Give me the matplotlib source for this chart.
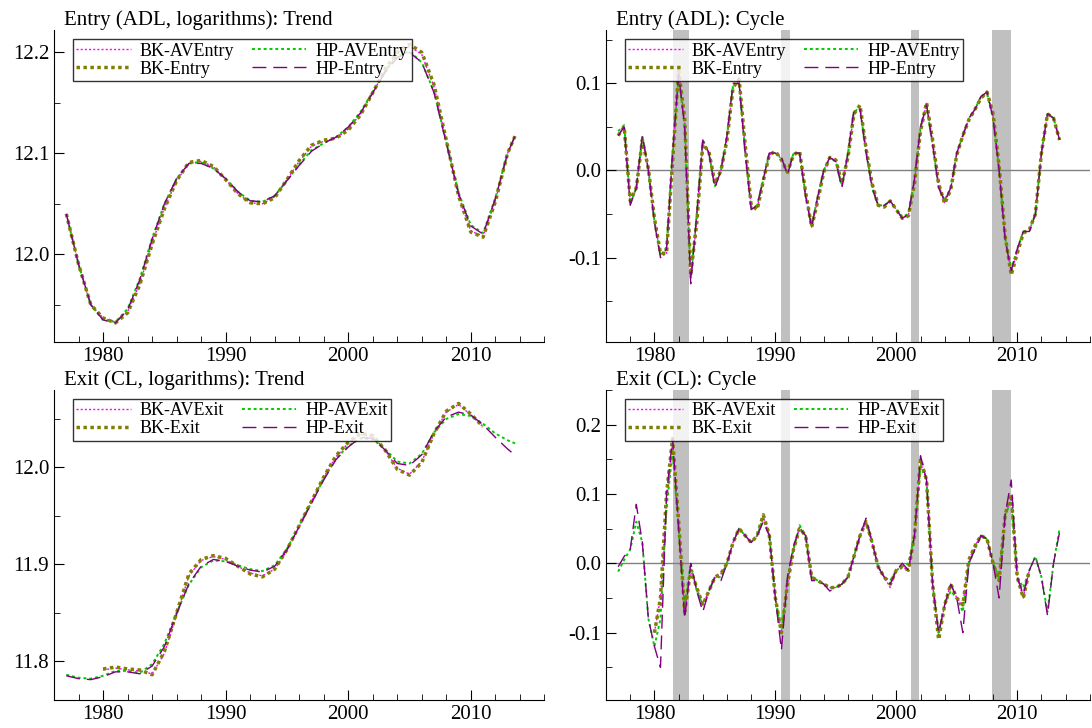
import numpy as np
import matplotlib
matplotlib.use("Agg")
import matplotlib.pyplot as plt
from matplotlib.ticker import MultipleLocator

plt.rcParams['font.family'] = ['Liberation Serif', 'DejaVu Serif']
plt.rcParams['axes.unicode_minus'] = False

# ---------------- data ----------------
yrs_trend = list(range(1977, 2014)) + [2013.6]
entry_hp_trend = [12.04, 11.99, 11.95, 11.935, 11.932, 11.945, 11.975, 12.015, 12.05, 12.075, 12.09,
                  12.09, 12.085, 12.075, 12.062, 12.053, 12.052, 12.058, 12.073, 12.088, 12.102, 12.11,
                  12.116, 12.126, 12.14, 12.16, 12.18, 12.195, 12.2, 12.19, 12.16, 12.11, 12.06,
                  12.028, 12.02, 12.055, 12.1, 12.117]
entry_hpav_trend = [12.04, 11.99, 11.95, 11.935, 11.933, 11.946, 11.976, 12.016, 12.05, 12.075, 12.09,
                    12.091, 12.085, 12.075, 12.062, 12.053, 12.052, 12.058, 12.073, 12.089, 12.103, 12.11,
                    12.116, 12.126, 12.141, 12.161, 12.181, 12.196, 12.201, 12.19, 12.161, 12.111, 12.061,
                    12.029, 12.021, 12.056, 12.1, 12.117]
entry_bk_trend = [12.04, 11.99, 11.95, 11.937, 11.932, 11.942, 11.97, 12.01, 12.045, 12.073, 12.091,
                  12.093, 12.087, 12.074, 12.06, 12.051, 12.05, 12.056, 12.074, 12.093, 12.108, 12.113,
                  12.115, 12.123, 12.138, 12.16, 12.183, 12.2, 12.208, 12.2, 12.168, 12.113, 12.058,
                  12.022, 12.017, 12.052, 12.1, 12.117]
entry_bkav_trend = [12.04, 11.99, 11.95, 11.937, 11.933, 11.943, 11.971, 12.011, 12.046, 12.073, 12.09,
                    12.092, 12.087, 12.074, 12.06, 12.051, 12.05, 12.057, 12.074, 12.092, 12.107, 12.112,
                    12.115, 12.124, 12.139, 12.16, 12.182, 12.199, 12.206, 12.198, 12.166, 12.112, 12.058,
                    12.023, 12.018, 12.053, 12.1, 12.117]

yrs_trend_exit = list(range(1977, 2014)) + [2013.75]
exit_hp_trend = [11.785, 11.782, 11.781, 11.784, 11.789, 11.789, 11.787, 11.795, 11.815, 11.849, 11.88,
                 11.898, 11.905, 11.903, 11.898, 11.894, 11.892, 11.898, 11.915, 11.939, 11.963, 11.987,
                 12.008, 12.021, 12.031, 12.03, 12.018, 12.004, 12.002, 12.013, 12.037, 12.052, 12.057,
                 12.054, 12.044, 12.031, 12.019, 12.011]
exit_hpav_trend = [11.786, 11.783, 11.782, 11.785, 11.79, 11.79, 11.788, 11.797, 11.818, 11.85, 11.879,
                   11.897, 11.904, 11.903, 11.899, 11.895, 11.893, 11.899, 11.916, 11.94, 11.964, 11.988,
                   12.009, 12.022, 12.03, 12.029, 12.019, 12.006, 12.004, 12.014, 12.036, 12.05, 12.055,
                   12.053, 12.045, 12.035, 12.028, 12.024]
yrs_bk = list(range(1980, 2012))
exit_bk_trend = [11.792, 11.794, 11.792, 11.791, 11.786, 11.81, 11.85, 11.89, 11.905, 11.909, 11.906,
                 11.898, 11.89, 11.887, 11.895, 11.915, 11.94, 11.965, 11.99, 12.012, 12.026, 12.035,
                 12.033, 12.018, 11.998, 11.992, 12.005, 12.035, 12.058, 12.066, 12.055, 12.042]
exit_bkav_trend = [11.791, 11.793, 11.791, 11.79, 11.787, 11.808, 11.848, 11.888, 11.904, 11.908, 11.905,
                   11.898, 11.891, 11.888, 11.895, 11.914, 11.939, 11.965, 11.99, 12.011, 12.025, 12.034,
                   12.032, 12.018, 11.999, 11.993, 12.006, 12.035, 12.057, 12.065, 12.054, 12.042]

yrs_cyc = [1977 + 0.5 * i for i in range(74)]
entry_hp_cyc = [0.04, 0.05, -0.04, -0.02, 0.04, 0.0, -0.06, -0.1, -0.09, 0.02, 0.11, 0.05, -0.13, -0.05,
                0.035, 0.02, -0.02, 0.0, 0.04, 0.1, 0.1, 0.02, -0.045, -0.04, -0.01, 0.02, 0.02, 0.015,
                -0.005, 0.02, 0.02, -0.03, -0.065, -0.03, 0.0, 0.015, 0.01, -0.02, 0.02, 0.07, 0.07, 0.02,
                -0.02, -0.04, -0.04, -0.035, -0.045, -0.055, -0.05, -0.01, 0.05, 0.075, 0.03, -0.02,
                -0.035, -0.02, 0.02, 0.04, 0.06, 0.07, 0.085, 0.09, 0.06, 0.0, -0.08, -0.115, -0.09,
                -0.07, -0.07, -0.05, 0.02, 0.065, 0.06, 0.035]
entry_hpav_cyc = [0.045, 0.052, -0.038, -0.02, 0.04, 0.0, -0.058, -0.098, -0.088, 0.02, 0.108, 0.05, -0.125,
                  -0.05, 0.035, 0.02, -0.018, 0.0, 0.04, 0.098, 0.1, 0.022, -0.043, -0.04, -0.01, 0.02, 0.02,
                  0.015, -0.004, 0.02, 0.02, -0.028, -0.063, -0.03, 0.0, 0.015, 0.01, -0.018, 0.02, 0.068,
                  0.07, 0.022, -0.02, -0.04, -0.04, -0.035, -0.045, -0.053, -0.05, -0.01, 0.05, 0.073, 0.03,
                  -0.02, -0.034, -0.02, 0.02, 0.04, 0.06, 0.07, 0.085, 0.088, 0.06, 0.0, -0.078, -0.113,
                  -0.09, -0.07, -0.068, -0.05, 0.02, 0.065, 0.06, 0.035]
entry_bk_cyc = [0.04, 0.05, -0.035, -0.02, 0.035, 0.002, -0.055, -0.095, -0.095, 0.01, 0.115, 0.06, -0.12,
                -0.06, 0.03, 0.022, -0.015, 0.0, 0.035, 0.095, 0.105, 0.03, -0.04, -0.045, -0.012, 0.018,
                0.022, 0.012, -0.002, 0.018, 0.022, -0.025, -0.065, -0.035, -0.002, 0.015, 0.012, -0.015,
                0.015, 0.065, 0.075, 0.025, -0.015, -0.04, -0.042, -0.035, -0.045, -0.055, -0.052, -0.015,
                0.045, 0.078, 0.035, -0.015, -0.038, -0.022, 0.018, 0.04, 0.058, 0.07, 0.083, 0.09, 0.065,
                0.005, -0.075, -0.12, -0.095, -0.072, -0.068, -0.05, 0.02, 0.065, 0.06, 0.035]
entry_bkav_cyc = [0.04, 0.05, -0.036, -0.02, 0.036, 0.002, -0.056, -0.098, -0.096, 0.012, 0.113, 0.058,
                  -0.122, -0.058, 0.031, 0.021, -0.016, 0.0, 0.036, 0.096, 0.104, 0.028, -0.041, -0.044,
                  -0.011, 0.018, 0.021, 0.013, -0.003, 0.019, 0.021, -0.026, -0.065, -0.034, -0.001, 0.015,
                  0.011, -0.016, 0.016, 0.066, 0.074, 0.024, -0.016, -0.04, -0.041, -0.035, -0.045, -0.055,
                  -0.051, -0.014, 0.046, 0.077, 0.034, -0.016, -0.037, -0.021, 0.019, 0.04, 0.059, 0.07,
                  0.084, 0.09, 0.064, 0.004, -0.076, -0.118, -0.093, -0.071, -0.069, -0.05, 0.02, 0.065,
                  0.06, 0.035]

exit_hp_cyc = [-0.005, 0.01, 0.02, 0.085, 0.03, -0.08, -0.12, -0.15, 0.1, 0.18, 0.05, -0.08, 0.0, -0.04,
               -0.07, -0.04, -0.02, -0.025, 0.0, 0.03, 0.05, 0.04, 0.03, 0.04, 0.06, 0.04, -0.05, -0.125,
               -0.02, 0.025, 0.05, 0.04, -0.025, -0.025, -0.03, -0.04, -0.035, -0.03, -0.02, 0.01, 0.04,
               0.065, 0.03, -0.005, -0.02, -0.03, -0.01, 0.0, -0.01, 0.04, 0.155, 0.12, -0.03, -0.1, -0.06,
               -0.03, -0.05, -0.1, 0.0, 0.02, 0.04, 0.035, 0.0, -0.05, 0.07, 0.12, -0.02, -0.045, -0.01,
               0.01, -0.02, -0.075, 0.0, 0.045]
exit_hpav_cyc = [-0.012, 0.005, 0.02, 0.06, 0.03, -0.08, -0.12, -0.08, 0.08, 0.16, 0.05, -0.06, 0.0, -0.04,
                 -0.06, -0.04, -0.02, -0.02, 0.0, 0.03, 0.05, 0.04, 0.03, 0.04, 0.065, 0.04, -0.05, -0.1,
                 -0.02, 0.02, 0.055, 0.04, -0.02, -0.025, -0.03, -0.035, -0.035, -0.03, -0.02, 0.01, 0.04,
                 0.06, 0.03, -0.005, -0.02, -0.025, -0.01, -0.005, 0.0, 0.04, 0.14, 0.12, -0.03, -0.1,
                 -0.06, -0.04, -0.05, -0.07, 0.0, 0.02, 0.04, 0.035, 0.0, -0.02, 0.07, 0.09, -0.02, -0.035,
                 -0.01, 0.01, -0.02, -0.07, 0.0, 0.05]
yrs_cyc_bk = [1980 + 0.5 * i for i in range(63)]
exit_bk_cyc = [-0.1, -0.05, 0.1, 0.18, 0.06, -0.07, -0.01, -0.035, -0.06, -0.04, -0.02, -0.015, 0.0, 0.03,
               0.05, 0.04, 0.03, 0.04, 0.07, 0.04, -0.05, -0.1, -0.03, 0.02, 0.05, 0.04, -0.02, -0.025,
               -0.03, -0.035, -0.035, -0.03, -0.02, 0.01, 0.04, 0.06, 0.03, -0.005, -0.02, -0.03, -0.01,
               -0.005, -0.01, 0.04, 0.15, 0.12, -0.03, -0.11, -0.06, -0.03, -0.05, -0.06, 0.005, 0.025,
               0.04, 0.035, 0.0, -0.025, 0.07, 0.1, -0.02, -0.05, -0.01]
exit_bkav_cyc = [-0.1, -0.05, 0.09, 0.17, 0.06, -0.07, -0.01, -0.035, -0.06, -0.04, -0.02, -0.015, 0.0,
                 0.03, 0.05, 0.04, 0.03, 0.04, 0.068, 0.04, -0.05, -0.1, -0.03, 0.02, 0.052, 0.04, -0.02,
                 -0.025, -0.03, -0.035, -0.035, -0.03, -0.02, 0.01, 0.04, 0.06, 0.03, -0.005, -0.02,
                 -0.035, -0.01, -0.005, -0.01, 0.04, 0.145, 0.12, -0.03, -0.105, -0.06, -0.03, -0.05,
                 -0.06, 0.005, 0.025, 0.04, 0.035, 0.0, -0.025, 0.07, 0.095, -0.02, -0.05, -0.01]

recessions = [(1981.54, 1982.85), (1990.5, 1991.2), (2001.2, 2001.85), (2007.95, 2009.5)]

C_BKAV, C_HPAV, C_BK, C_HP = '#FF00FF', '#00CC00', '#808000', '#800080'

fig = plt.figure(figsize=(10.92, 7.28), dpi=100)
axes = {
    'tl': fig.add_axes([0.0495, 0.530, 0.449, 0.4286]),
    'tr': fig.add_axes([0.555, 0.530, 0.443, 0.4286]),
    'bl': fig.add_axes([0.0495, 0.0385, 0.449, 0.426]),
    'br': fig.add_axes([0.555, 0.0385, 0.443, 0.426]),
}

def style(ax, title, ylim, major, minor):
    ax.set_xlim(1976, 2016)
    ax.set_ylim(*ylim)
    for s in ('top', 'right'):
        ax.spines[s].set_visible(False)
    ax.xaxis.set_major_locator(MultipleLocator(10))
    ax.xaxis.set_minor_locator(MultipleLocator(2))
    ax.yaxis.set_major_locator(MultipleLocator(major))
    ax.yaxis.set_minor_locator(MultipleLocator(minor))
    ax.tick_params(which='both', direction='in', labelsize=15)
    ax.tick_params(which='major', length=7)
    ax.tick_params(which='minor', length=4)
    ax.text(0.02, 1.0, title, transform=ax.transAxes, fontsize=15, va='bottom', ha='left')

def draw(ax, series, name):
    (x_bkav, bkav), (x_hpav, hpav), (x_bk, bk), (x_hp, hp) = series
    l1, = ax.plot(x_bkav, bkav, color=C_BKAV, lw=1.0, ls=(0, (1.5, 1.5)), label='BK-AV' + name)
    l2, = ax.plot(x_hpav, hpav, color=C_HPAV, lw=1.4, ls=(0, (1.5, 1.5)), label='HP-AV' + name)
    l3, = ax.plot(x_bk, bk, color=C_BK, lw=2.5, ls=(0, (1, 1)), label='BK-' + name)
    l4, = ax.plot(x_hp, hp, color=C_HP, lw=1.0, ls=(0, (10, 5)), label='HP-' + name)
    leg = ax.legend(handles=[l1, l3, l2, l4], ncol=2, loc='upper left', bbox_to_anchor=(0.02, 1.0),
                    fontsize=13, frameon=True, fancybox=False, edgecolor='black',
                    borderpad=0.2, handlelength=3, labelspacing=0.05, columnspacing=1.0, handletextpad=0.5)
    leg.get_frame().set_linewidth(1.0)

def cyc_decor(ax):
    for a, b in recessions:
        ax.axvspan(a, b, color='#C0C0C0', lw=0, zorder=0)
    ax.axhline(0, color='#808080', lw=1, zorder=1)

ax = axes['tl']
style(ax, 'Entry (ADL, logarithms): Trend', (11.913, 12.222), 0.1, 0.05)
draw(ax, [(yrs_trend, entry_bkav_trend), (yrs_trend, entry_hpav_trend),
          (yrs_trend, entry_bk_trend), (yrs_trend, entry_hp_trend)], 'Entry')

ax = axes['tr']
style(ax, 'Entry (ADL): Cycle', (-0.197, 0.161), 0.1, 0.05)
cyc_decor(ax)
draw(ax, [(yrs_cyc, entry_bkav_cyc), (yrs_cyc, entry_hpav_cyc),
          (yrs_cyc, entry_bk_cyc), (yrs_cyc, entry_hp_cyc)], 'Entry')

ax = axes['bl']
style(ax, 'Exit (CL, logarithms): Trend', (11.76, 12.08), 0.1, 0.05)
draw(ax, [(yrs_bk, exit_bkav_trend), (yrs_trend_exit, exit_hpav_trend),
          (yrs_bk, exit_bk_trend), (yrs_trend_exit, exit_hp_trend)], 'Exit')

ax = axes['br']
style(ax, 'Exit (CL): Cycle', (-0.197, 0.25), 0.1, 0.05)
cyc_decor(ax)
draw(ax, [(yrs_cyc_bk, exit_bkav_cyc), (yrs_cyc, exit_hpav_cyc),
          (yrs_cyc_bk, exit_bk_cyc), (yrs_cyc, exit_hp_cyc)], 'Exit')

fig.savefig('out.png', dpi=100)
